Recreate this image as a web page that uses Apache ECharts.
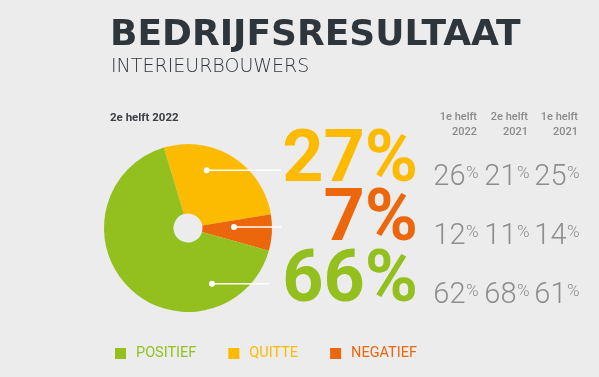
<!DOCTYPE html>
<html>
<head>
<meta charset="utf-8">
<script src="https://cdn.jsdelivr.net/npm/echarts@6/dist/echarts.min.js"></script>
<style>
html, body { margin: 0; padding: 0; background: #ececec; }
#chart { width: 599px; height: 377px; }
</style>
</head>
<body>
<div id="chart"></div>
<script>
// data
const categories = ['QUITTE', 'NEGATIEF', 'POSITIEF'];
const current = [27, 7, 66];                 // 2e helft 2022
const periods = ['1e helft\n2022', '2e helft\n2021', '1e helft\n2021'];
const prevQuitte = [26, 21, 25];
const prevNegatief = [12, 11, 14];
const prevPositief = [62, 68, 61];
const legendOrder = ['POSITIEF', 'QUITTE', 'NEGATIEF'];

const colors = { QUITTE: '#fcba00', NEGATIEF: '#ec670b', POSITIEF: '#93c01f' };
const prevRows = [prevQuitte, prevNegatief, prevPositief];

// layout (pixels)
const rowY = [162.5, 221.7, 282.5];          // centre of the big labels
const leader = [
    { x0: 206.7, y: 170.3, x1: 281 },
    { x0: 234, y: 227, x1: 281.7 },
    { x0: 212, y: 283.7, x1: 269 }
];
const colRight = [465.5, 516.5, 566.5];      // right edge of the small numbers
const prevY = [177.5, 236.7, 296];
const grey = '#8d8d8d';

const chart = echarts.init(document.getElementById('chart'));

const graphic = [];
// leader lines with a dot inside the slice
leader.forEach(function (l) {
    graphic.push({ type: 'line', z: 1, shape: { x1: l.x0, y1: l.y, x2: l.x1, y2: l.y }, style: { stroke: '#fff', lineWidth: 1.6 } });
    graphic.push({ type: 'circle', z: 1, shape: { cx: l.x0, cy: l.y, r: 3 }, style: { fill: '#fff' } });
});
periods.forEach(function (p, c) {
    graphic.push({
        type: 'text',
        style: {
            text: p, x: colRight[c] + 11.5, y: 109.5, align: 'right', verticalAlign: 'top',
            font: '500 11px Roboto', lineHeight: 15, fill: '#8a8a8a'
        }
    });
});
prevRows.forEach(function (row, r) {
    row.forEach(function (v, c) {
        graphic.push({
            type: 'text',
            style: {
                text: String(v), x: colRight[c], y: prevY[r], align: 'right', verticalAlign: 'middle',
                font: '300 29px Roboto', fill: grey
            }
        });
        graphic.push({
            type: 'text',
            style: {
                text: '%', x: colRight[c] + 0.5, y: prevY[r] - 4, align: 'left', verticalAlign: 'middle',
                font: '300 17px Roboto', fill: grey
            }
        });
    });
});

const option = {
    backgroundColor: '#ececec',
    animation: false,
    title: [
        {
            text: 'BEDRIJFSRESULTAAT', left: 110, top: 18, padding: 0,
            textStyle: { fontFamily: 'DejaVu Sans', fontWeight: 'bold', fontSize: 36, lineHeight: 36, color: '#2e363c' }
        },
        {
            text: 'INTERIEURBOUWERS', left: 111, top: 57, padding: 0,
            textStyle: { fontFamily: 'DejaVu Sans', fontWeight: 200, fontSize: 19, lineHeight: 20, color: '#30373c' }
        },
        {
            text: '2e helft 2022', left: 110, top: 112, padding: 0,
            textStyle: { fontFamily: 'Roboto', fontWeight: 'bold', fontSize: 11.5, lineHeight: 12, color: '#3c4146' }
        }
    ],
    legend: {
        data: legendOrder.map(function (n) { return { name: n, textStyle: { color: colors[n] } }; }),
        icon: 'rect',
        itemWidth: 11,
        itemHeight: 11,
        itemGap: 32,
        left: 110,
        top: 341,
        selectedMode: false,
        textStyle: { fontFamily: 'Roboto', fontSize: 14.5, padding: [0, 0, 0, 5] }
    },
    graphic: graphic,
    series: [
        {
            type: 'pie',
            z: 0,
            center: [188, 228],
            radius: [14.5, 84],
            startAngle: 106.7,
            clockwise: true,
            avoidLabelOverlap: false,
            silent: true,
            data: categories.map(function (n, i) {
                return { name: n, value: current[i], itemStyle: { color: colors[n] }, label: { color: colors[n] } };
            }),
            label: {
                show: true,
                position: 'outside',
                formatter: function (p) { return p.value + '%'; },
                fontFamily: 'Roboto',
                fontWeight: 'bold',
                fontSize: 72,
                lineHeight: 72
            },
            labelLine: { show: false },
            labelLayout: function (params) {
                const i = params.dataIndex;
                return { x: 418, y: rowY[i], align: 'right', verticalAlign: 'middle' };
            }
        }
    ]
};

chart.setOption(option);
</script>
</body>
</html>
